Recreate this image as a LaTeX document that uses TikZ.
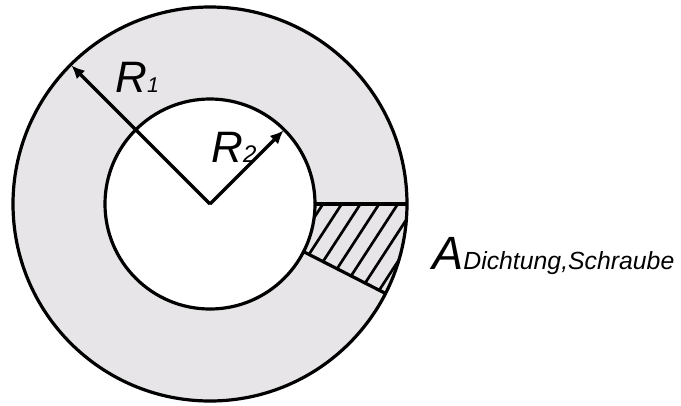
\documentclass[tikz,border=0pt]{standalone}
\usepackage{fontspec}
\setmainfont{Liberation Sans}
\usetikzlibrary{arrows.meta}
\definecolor{ringgray}{RGB}{231,229,231}
\tikzset{
  rimline/.style={line width=2.4pt},
  radiusarrow/.style={-{Latex[length=10pt,width=9pt]}, line width=2.4pt},
  hatchline/.style={line width=2pt},
  symlabel/.style={inner sep=0pt, anchor=base west, font=\itshape}
}
\begin{document}
\begin{tikzpicture}[x=0.75pt, y=0.75pt]
  \useasboundingbox (-210,-201) rectangle (471,204);
  \coordinate (c) at (0,0);
  \coordinate (e1) at (135:196);
  \coordinate (e2) at (45:104);
  \fill[ringgray] (c) circle[radius=197];
  \fill[white] (c) circle[radius=105];
  % hatched segment
  \begin{scope}
    \clip (0:105) -- (0:197) arc[start angle=0, end angle=-27, radius=197]
      -- (-27:105) arc[start angle=-27, end angle=0, radius=105] -- cycle;
    \foreach \k in {-3,...,9}
      \draw[hatchline] (113+18.7*\k,0) ++(237:130) -- ++(57:260);
  \end{scope}
  \draw[rimline] (0:105) -- (0:197);
  \draw[rimline] (-27:105) -- (-27:197);
  \draw[rimline] (c) circle[radius=197];
  \draw[rimline] (c) circle[radius=105];
  \draw[radiusarrow] (c) -- (e1);
  \draw[radiusarrow] (c) -- (e2);
  \node[symlabel] (l1) at (-95,112)
    {\fontsize{33}{34}\selectfont R\fontsize{16}{17}\selectfont 1};
  \node[symlabel] (l2) at (1,42)
    {\fontsize{33}{34}\selectfont R\fontsize{18}{19}\selectfont 2};
  \node[symlabel] (la) at (222,-65)
    {\fontsize{35}{36}\selectfont A\fontsize{18.6}{20}\selectfont Dichtung,Schraube};
\end{tikzpicture}
\end{document}
